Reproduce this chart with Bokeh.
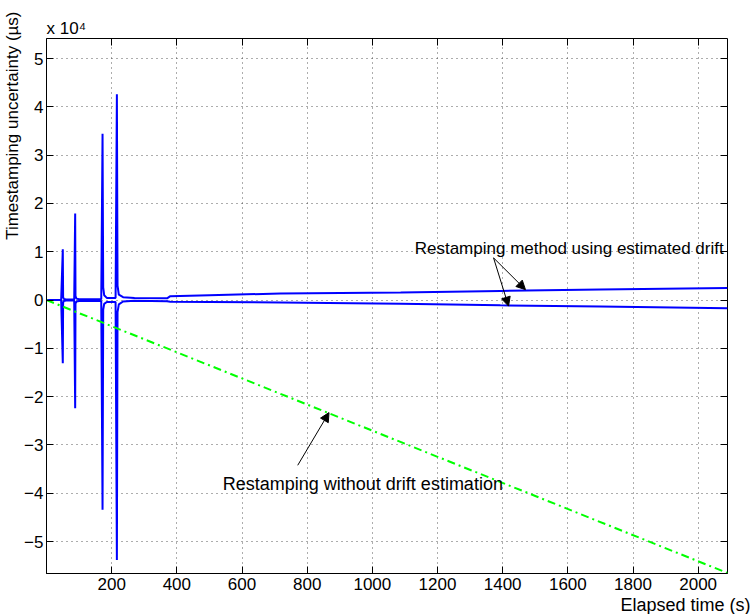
from bokeh.plotting import figure
from bokeh.models import Range1d, FixedTicker, LinearAxis, Label, Arrow, NormalHead, Title
from bokeh.embed import file_html
from bokeh.resources import INLINE

# ---------------- data (time in s, uncertainty in microseconds) ----------------
t_upper = [0, 45, 50, 51, 53, 60, 85, 88, 89, 92, 100, 168, 172, 174, 177, 185,
           212, 216, 218, 222, 235, 270, 370, 380, 500, 718, 1087, 1393, 1700, 2090]
v_upper = [0, 0, 10500, 600, 250, 100, 100, 17900, 800, 300, 150, 150, 34400, 2600,
           1000, 450, 450, 42600, 3000, 1100, 600, 450, 350, 800, 1000, 1350, 1550,
           1900, 2200, 2500]

t_lower = [0, 45, 50, 51, 53, 60, 85, 88, 89, 92, 100, 168, 172, 174, 177, 185,
           212, 216, 218, 222, 235, 270, 370, 380, 500, 718, 1087, 1393, 1700, 2090]
v_lower = [0, 0, -13100, -500, -200, -100, -100, -22400, -700, -300, -200, -200,
           -43400, -2000, -800, -400, -400, -53800, -2500, -900, -300, -150, -250,
           -350, -400, -500, -770, -1100, -1350, -1670]

t_nodrift = [0, 2090]
v_nodrift = [0, -56500]

x_ticks = [200, 400, 600, 800, 1000, 1200, 1400, 1600, 1800, 2000]
y_ticks = [-50000, -40000, -30000, -20000, -10000, 0, 10000, 20000, 30000, 40000, 50000]
y_tick_labels = ["\u22125", "\u22124", "\u22123", "\u22122", "\u22121", "0", "1", "2", "3", "4", "5"]

FONT = "Liberation Sans"

p = figure(width=752, height=614, output_backend="svg", toolbar_location=None,
           x_range=Range1d(0, 2090), y_range=Range1d(-56600, 54140),
           min_border_left=46, min_border_right=25, min_border_top=38, min_border_bottom=40)
p.background_fill_color = "white"
p.border_fill_color = "white"
p.outline_line_color = "black"
p.outline_line_width = 1

# main axes
for ax in (p.xaxis[0], p.yaxis[0]):
    ax.axis_line_color = "black"
    ax.major_tick_in = 7
    ax.major_tick_out = 0
    ax.minor_tick_line_color = None
    ax.major_label_text_font = FONT
    ax.major_label_text_font_size = "17px"
    ax.major_label_text_color = "black"
p.xaxis[0].major_label_standoff = 4
p.yaxis[0].major_label_standoff = 3
p.xaxis[0].ticker = FixedTicker(ticks=x_ticks)
p.yaxis[0].ticker = FixedTicker(ticks=y_ticks)
p.yaxis[0].major_label_overrides = {v: s for v, s in zip(y_ticks, y_tick_labels)}

# mirrored tick marks (top / right), no labels
top_ax = LinearAxis(ticker=FixedTicker(ticks=x_ticks), major_tick_in=7, major_tick_out=0,
                    minor_tick_line_color=None, axis_line_color=None,
                    major_label_overrides={v: "" for v in x_ticks}, major_label_standoff=0)
right_ax = LinearAxis(ticker=FixedTicker(ticks=y_ticks), major_tick_in=7, major_tick_out=0,
                      minor_tick_line_color=None, axis_line_color=None,
                      major_label_overrides={v: "" for v in y_ticks}, major_label_standoff=0)
p.add_layout(top_ax, "above")
p.add_layout(right_ax, "right")

# grid
p.xgrid.ticker = FixedTicker(ticks=x_ticks)
p.ygrid.ticker = FixedTicker(ticks=y_ticks)
for g in (p.xgrid[0], p.ygrid[0]):
    g.grid_line_color = "#333333"
    g.grid_line_alpha = 0.8
    g.grid_line_dash = "1 4"
    g.grid_line_width = 1

# data lines
p.line(t_upper, v_upper, line_color="#0000ff", line_width=2)
p.line(t_lower, v_lower, line_color="#0000ff", line_width=2)
p.line(t_nodrift, v_nodrift, line_color="#00ff00", line_width=2, line_dash="8 4 2 4")

# annotations
p.add_layout(Label(x=1130, y=10600, text="Restamping method using estimated drift",
                   text_font=FONT, text_font_size="17px", text_color="black",
                   text_baseline="middle", text_align="left"))
p.add_layout(Arrow(end=NormalHead(size=9, fill_color="black", line_color="black"),
                   x_start=1372, y_start=8730, x_end=1470, y_end=2150,
                   line_color="black", line_width=1))
p.add_layout(Arrow(end=NormalHead(size=9, fill_color="black", line_color="black"),
                   x_start=1372, y_start=8730, x_end=1418, y_end=-1250,
                   line_color="black", line_width=1))

p.add_layout(Label(x=541, y=-38100, text="Restamping without drift estimation",
                   text_font=FONT, text_font_size="18px", text_color="black",
                   text_baseline="middle", text_align="left"))
p.add_layout(Arrow(end=NormalHead(size=9, fill_color="black", line_color="black"),
                   x_start=771, y_start=-34200, x_end=867, y_end=-23300,
                   line_color="black", line_width=1))

# axis titles outside the frame
p.add_layout(Title(text="x 10\u2074", align="left", text_font=FONT, text_font_size="17px",
                   text_font_style="normal", text_color="black", standoff=2), "above")
p.add_layout(Title(text="Timestamping uncertainty (\u00b5s)", align="right", text_font=FONT,
                   text_font_size="17px", text_font_style="normal", text_color="black",
                   standoff=0, offset=-27), "left")
p.add_layout(Title(text="Elapsed time (s)", align="right", text_font=FONT,
                   text_font_size="18px", text_font_style="normal", text_color="black",
                   standoff=0, offset=-23), "below")

open("out.html", "w").write(file_html(p, INLINE))
